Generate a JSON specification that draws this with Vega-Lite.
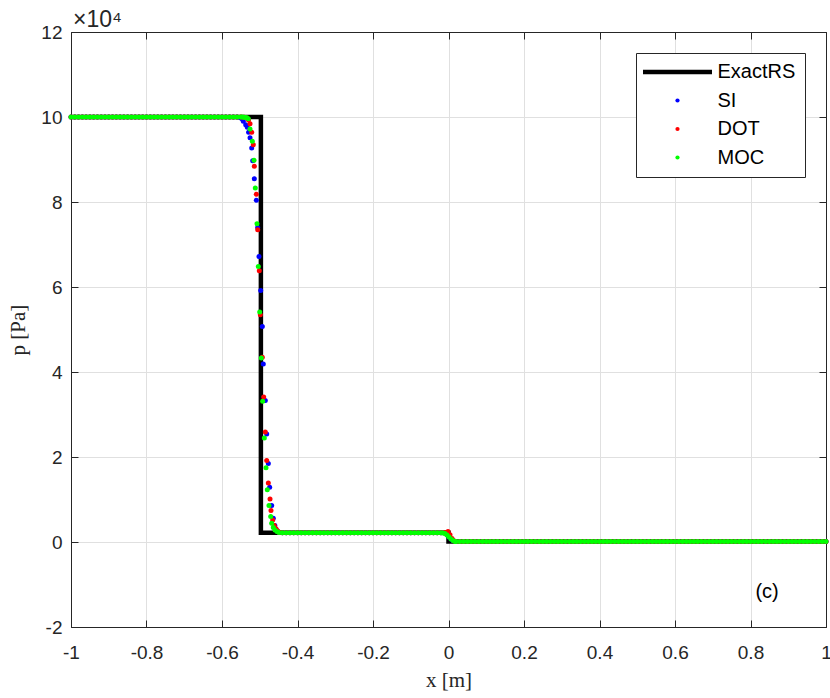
{
"$schema":"https://vega.github.io/schema/vega-lite/v6.json",
"width":755,"height":595,
"autosize":{"type":"none"},
"padding":{"left":71,"top":32,"right":4,"bottom":71},
"background":"white",
"config":{
"view":{"stroke":"#262626","strokeWidth":1},
"axis":{"labelFont":"Liberation Sans","labelFontSize":19,"labelColor":"#262626","domainColor":"#262626","domainWidth":1,"tickColor":"#262626","tickWidth":1,"tickSize":-7,"gridColor":"#e0e0e0","gridWidth":1,"titleFont":"Liberation Serif","titleFontSize":21,"titleFontWeight":"normal","titleColor":"#262626","labelFlush":false,"labelOverlap":false,"labelPadding":12}
},
"datasets":{
"exact":[
{"s":"ExactRS","x":-1,"p":10,"o":1},{"s":"ExactRS","x":-0.497,"p":10,"o":2},{"s":"ExactRS","x":-0.497,"p":0.215,"o":3},{"s":"ExactRS","x":0,"p":0.215,"o":4},{"s":"ExactRS","x":0,"p":0.01,"o":5},{"s":"ExactRS","x":1,"p":0.01,"o":6}
],
"note":[{"x":0.844,"p":-1.17,"label":"(c)"}],
"expo":[{"x":-1,"p":12,"label":"×10⁴"}],
"num":[
{"s":"SI","x":-1,"p":10},{"s":"SI","x":-0.99,"p":10},{"s":"SI","x":-0.98,"p":10},{"s":"SI","x":-0.97,"p":10},{"s":"SI","x":-0.96,"p":10},{"s":"SI","x":-0.95,"p":10},{"s":"SI","x":-0.94,"p":10},{"s":"SI","x":-0.93,"p":10},{"s":"SI","x":-0.92,"p":10},{"s":"SI","x":-0.91,"p":10},{"s":"SI","x":-0.9,"p":10},{"s":"SI","x":-0.89,"p":10},{"s":"SI","x":-0.88,"p":10},{"s":"SI","x":-0.87,"p":10},{"s":"SI","x":-0.86,"p":10},{"s":"SI","x":-0.85,"p":10},{"s":"SI","x":-0.84,"p":10},{"s":"SI","x":-0.83,"p":10},{"s":"SI","x":-0.82,"p":10},{"s":"SI","x":-0.81,"p":10},{"s":"SI","x":-0.8,"p":10},{"s":"SI","x":-0.79,"p":10},{"s":"SI","x":-0.78,"p":10},{"s":"SI","x":-0.77,"p":10},{"s":"SI","x":-0.76,"p":10},{"s":"SI","x":-0.75,"p":10},{"s":"SI","x":-0.74,"p":10},{"s":"SI","x":-0.73,"p":10},{"s":"SI","x":-0.72,"p":10},{"s":"SI","x":-0.71,"p":10},{"s":"SI","x":-0.7,"p":10},{"s":"SI","x":-0.69,"p":10},{"s":"SI","x":-0.68,"p":10},{"s":"SI","x":-0.67,"p":10},{"s":"SI","x":-0.66,"p":10},{"s":"SI","x":-0.65,"p":10},{"s":"SI","x":-0.64,"p":10},{"s":"SI","x":-0.63,"p":10},{"s":"SI","x":-0.62,"p":10},{"s":"SI","x":-0.61,"p":10},{"s":"SI","x":-0.6,"p":10},{"s":"SI","x":-0.59,"p":10},{"s":"SI","x":-0.58,"p":10},{"s":"SI","x":-0.57,"p":10},{"s":"SI","x":-0.56,"p":10},
{"s":"SI","x":-0.552,"p":9.99},{"s":"SI","x":-0.5475,"p":9.96},{"s":"SI","x":-0.5436,"p":9.9},{"s":"SI","x":-0.5372,"p":9.82},{"s":"SI","x":-0.533,"p":9.76},{"s":"SI","x":-0.5295,"p":9.64},{"s":"SI","x":-0.5258,"p":9.51},{"s":"SI","x":-0.5213,"p":9.27},{"s":"SI","x":-0.5187,"p":8.97},{"s":"SI","x":-0.5144,"p":8.55},{"s":"SI","x":-0.5091,"p":8.04},{"s":"SI","x":-0.5055,"p":7.4},{"s":"SI","x":-0.502,"p":6.72},{"s":"SI","x":-0.4975,"p":5.92},{"s":"SI","x":-0.4932,"p":5.07},{"s":"SI","x":-0.4906,"p":4.19},{"s":"SI","x":-0.4853,"p":3.33},{"s":"SI","x":-0.4816,"p":2.54},{"s":"SI","x":-0.4773,"p":1.85},{"s":"SI","x":-0.4737,"p":1.29},{"s":"SI","x":-0.4684,"p":0.86},{"s":"SI","x":-0.4641,"p":0.56},{"s":"SI","x":-0.46,"p":0.39},{"s":"SI","x":-0.456,"p":0.29},{"s":"SI","x":-0.452,"p":0.25},{"s":"SI","x":-0.448,"p":0.225},
{"s":"SI","x":-0.44,"p":0.215},{"s":"SI","x":-0.43,"p":0.215},{"s":"SI","x":-0.42,"p":0.215},{"s":"SI","x":-0.41,"p":0.215},{"s":"SI","x":-0.4,"p":0.215},{"s":"SI","x":-0.39,"p":0.215},{"s":"SI","x":-0.38,"p":0.215},{"s":"SI","x":-0.37,"p":0.215},{"s":"SI","x":-0.36,"p":0.215},{"s":"SI","x":-0.35,"p":0.215},{"s":"SI","x":-0.34,"p":0.215},{"s":"SI","x":-0.33,"p":0.215},{"s":"SI","x":-0.32,"p":0.215},{"s":"SI","x":-0.31,"p":0.215},{"s":"SI","x":-0.3,"p":0.215},{"s":"SI","x":-0.29,"p":0.215},{"s":"SI","x":-0.28,"p":0.215},{"s":"SI","x":-0.27,"p":0.215},{"s":"SI","x":-0.26,"p":0.215},{"s":"SI","x":-0.25,"p":0.215},{"s":"SI","x":-0.24,"p":0.215},{"s":"SI","x":-0.23,"p":0.215},{"s":"SI","x":-0.22,"p":0.215},{"s":"SI","x":-0.21,"p":0.215},{"s":"SI","x":-0.2,"p":0.215},{"s":"SI","x":-0.19,"p":0.215},{"s":"SI","x":-0.18,"p":0.215},{"s":"SI","x":-0.17,"p":0.215},{"s":"SI","x":-0.16,"p":0.215},{"s":"SI","x":-0.15,"p":0.215},{"s":"SI","x":-0.14,"p":0.215},{"s":"SI","x":-0.13,"p":0.215},{"s":"SI","x":-0.12,"p":0.215},{"s":"SI","x":-0.11,"p":0.215},{"s":"SI","x":-0.1,"p":0.215},{"s":"SI","x":-0.09,"p":0.215},{"s":"SI","x":-0.08,"p":0.215},{"s":"SI","x":-0.07,"p":0.215},{"s":"SI","x":-0.06,"p":0.215},{"s":"SI","x":-0.05,"p":0.215},{"s":"SI","x":-0.04,"p":0.215},{"s":"SI","x":-0.03,"p":0.215},{"s":"SI","x":-0.02,"p":0.215},
{"s":"SI","x":-0.0093,"p":0.21},{"s":"SI","x":-0.004,"p":0.17},{"s":"SI","x":0.0013,"p":0.12},{"s":"SI","x":0.0066,"p":0.07},{"s":"SI","x":0.0119,"p":0.035},
{"s":"SI","x":0.02,"p":0.01},{"s":"SI","x":0.03,"p":0.01},{"s":"SI","x":0.04,"p":0.01},{"s":"SI","x":0.05,"p":0.01},{"s":"SI","x":0.06,"p":0.01},{"s":"SI","x":0.07,"p":0.01},{"s":"SI","x":0.08,"p":0.01},{"s":"SI","x":0.09,"p":0.01},{"s":"SI","x":0.1,"p":0.01},{"s":"SI","x":0.11,"p":0.01},{"s":"SI","x":0.12,"p":0.01},{"s":"SI","x":0.13,"p":0.01},{"s":"SI","x":0.14,"p":0.01},{"s":"SI","x":0.15,"p":0.01},{"s":"SI","x":0.16,"p":0.01},{"s":"SI","x":0.17,"p":0.01},{"s":"SI","x":0.18,"p":0.01},{"s":"SI","x":0.19,"p":0.01},{"s":"SI","x":0.2,"p":0.01},{"s":"SI","x":0.21,"p":0.01},{"s":"SI","x":0.22,"p":0.01},{"s":"SI","x":0.23,"p":0.01},{"s":"SI","x":0.24,"p":0.01},{"s":"SI","x":0.25,"p":0.01},{"s":"SI","x":0.26,"p":0.01},{"s":"SI","x":0.27,"p":0.01},{"s":"SI","x":0.28,"p":0.01},{"s":"SI","x":0.29,"p":0.01},{"s":"SI","x":0.3,"p":0.01},{"s":"SI","x":0.31,"p":0.01},{"s":"SI","x":0.32,"p":0.01},{"s":"SI","x":0.33,"p":0.01},{"s":"SI","x":0.34,"p":0.01},{"s":"SI","x":0.35,"p":0.01},{"s":"SI","x":0.36,"p":0.01},{"s":"SI","x":0.37,"p":0.01},{"s":"SI","x":0.38,"p":0.01},{"s":"SI","x":0.39,"p":0.01},{"s":"SI","x":0.4,"p":0.01},{"s":"SI","x":0.41,"p":0.01},{"s":"SI","x":0.42,"p":0.01},{"s":"SI","x":0.43,"p":0.01},{"s":"SI","x":0.44,"p":0.01},{"s":"SI","x":0.45,"p":0.01},{"s":"SI","x":0.46,"p":0.01},{"s":"SI","x":0.47,"p":0.01},{"s":"SI","x":0.48,"p":0.01},{"s":"SI","x":0.49,"p":0.01},{"s":"SI","x":0.5,"p":0.01},{"s":"SI","x":0.51,"p":0.01},{"s":"SI","x":0.52,"p":0.01},{"s":"SI","x":0.53,"p":0.01},{"s":"SI","x":0.54,"p":0.01},{"s":"SI","x":0.55,"p":0.01},{"s":"SI","x":0.56,"p":0.01},{"s":"SI","x":0.57,"p":0.01},{"s":"SI","x":0.58,"p":0.01},{"s":"SI","x":0.59,"p":0.01},{"s":"SI","x":0.6,"p":0.01},{"s":"SI","x":0.61,"p":0.01},{"s":"SI","x":0.62,"p":0.01},{"s":"SI","x":0.63,"p":0.01},{"s":"SI","x":0.64,"p":0.01},{"s":"SI","x":0.65,"p":0.01},{"s":"SI","x":0.66,"p":0.01},{"s":"SI","x":0.67,"p":0.01},{"s":"SI","x":0.68,"p":0.01},{"s":"SI","x":0.69,"p":0.01},{"s":"SI","x":0.7,"p":0.01},{"s":"SI","x":0.71,"p":0.01},{"s":"SI","x":0.72,"p":0.01},{"s":"SI","x":0.73,"p":0.01},{"s":"SI","x":0.74,"p":0.01},{"s":"SI","x":0.75,"p":0.01},{"s":"SI","x":0.76,"p":0.01},{"s":"SI","x":0.77,"p":0.01},{"s":"SI","x":0.78,"p":0.01},{"s":"SI","x":0.79,"p":0.01},{"s":"SI","x":0.8,"p":0.01},{"s":"SI","x":0.81,"p":0.01},{"s":"SI","x":0.82,"p":0.01},{"s":"SI","x":0.83,"p":0.01},{"s":"SI","x":0.84,"p":0.01},{"s":"SI","x":0.85,"p":0.01},{"s":"SI","x":0.86,"p":0.01},{"s":"SI","x":0.87,"p":0.01},{"s":"SI","x":0.88,"p":0.01},{"s":"SI","x":0.89,"p":0.01},{"s":"SI","x":0.9,"p":0.01},{"s":"SI","x":0.91,"p":0.01},{"s":"SI","x":0.92,"p":0.01},{"s":"SI","x":0.93,"p":0.01},{"s":"SI","x":0.94,"p":0.01},{"s":"SI","x":0.95,"p":0.01},{"s":"SI","x":0.96,"p":0.01},{"s":"SI","x":0.97,"p":0.01},{"s":"SI","x":0.98,"p":0.01},{"s":"SI","x":0.99,"p":0.01},{"s":"SI","x":1,"p":0.01},
{"s":"DOT","x":-1,"p":10},{"s":"DOT","x":-0.99,"p":10},{"s":"DOT","x":-0.98,"p":10},{"s":"DOT","x":-0.97,"p":10},{"s":"DOT","x":-0.96,"p":10},{"s":"DOT","x":-0.95,"p":10},{"s":"DOT","x":-0.94,"p":10},{"s":"DOT","x":-0.93,"p":10},{"s":"DOT","x":-0.92,"p":10},{"s":"DOT","x":-0.91,"p":10},{"s":"DOT","x":-0.9,"p":10},{"s":"DOT","x":-0.89,"p":10},{"s":"DOT","x":-0.88,"p":10},{"s":"DOT","x":-0.87,"p":10},{"s":"DOT","x":-0.86,"p":10},{"s":"DOT","x":-0.85,"p":10},{"s":"DOT","x":-0.84,"p":10},{"s":"DOT","x":-0.83,"p":10},{"s":"DOT","x":-0.82,"p":10},{"s":"DOT","x":-0.81,"p":10},{"s":"DOT","x":-0.8,"p":10},{"s":"DOT","x":-0.79,"p":10},{"s":"DOT","x":-0.78,"p":10},{"s":"DOT","x":-0.77,"p":10},{"s":"DOT","x":-0.76,"p":10},{"s":"DOT","x":-0.75,"p":10},{"s":"DOT","x":-0.74,"p":10},{"s":"DOT","x":-0.73,"p":10},{"s":"DOT","x":-0.72,"p":10},{"s":"DOT","x":-0.71,"p":10},{"s":"DOT","x":-0.7,"p":10},{"s":"DOT","x":-0.69,"p":10},{"s":"DOT","x":-0.68,"p":10},{"s":"DOT","x":-0.67,"p":10},{"s":"DOT","x":-0.66,"p":10},{"s":"DOT","x":-0.65,"p":10},{"s":"DOT","x":-0.64,"p":10},{"s":"DOT","x":-0.63,"p":10},{"s":"DOT","x":-0.62,"p":10},{"s":"DOT","x":-0.61,"p":10},{"s":"DOT","x":-0.6,"p":10},{"s":"DOT","x":-0.59,"p":10},{"s":"DOT","x":-0.58,"p":10},{"s":"DOT","x":-0.57,"p":10},{"s":"DOT","x":-0.56,"p":10},
{"s":"DOT","x":-0.55,"p":10},{"s":"DOT","x":-0.5418,"p":9.995},{"s":"DOT","x":-0.5378,"p":9.99},{"s":"DOT","x":-0.5338,"p":9.97},{"s":"DOT","x":-0.5298,"p":9.93},{"s":"DOT","x":-0.5258,"p":9.84},{"s":"DOT","x":-0.5213,"p":9.64},{"s":"DOT","x":-0.5171,"p":9.35},{"s":"DOT","x":-0.5144,"p":8.84},{"s":"DOT","x":-0.5091,"p":8.18},{"s":"DOT","x":-0.5054,"p":7.35},{"s":"DOT","x":-0.5012,"p":6.38},{"s":"DOT","x":-0.4985,"p":5.35},{"s":"DOT","x":-0.4932,"p":4.35},{"s":"DOT","x":-0.4895,"p":3.41},{"s":"DOT","x":-0.4853,"p":2.59},{"s":"DOT","x":-0.4816,"p":1.92},{"s":"DOT","x":-0.4773,"p":1.39},{"s":"DOT","x":-0.4728,"p":1.01},{"s":"DOT","x":-0.4702,"p":0.74},{"s":"DOT","x":-0.4657,"p":0.52},{"s":"DOT","x":-0.4615,"p":0.39},{"s":"DOT","x":-0.457,"p":0.31},{"s":"DOT","x":-0.4528,"p":0.26},{"s":"DOT","x":-0.4483,"p":0.23},
{"s":"DOT","x":-0.44,"p":0.215},{"s":"DOT","x":-0.43,"p":0.215},{"s":"DOT","x":-0.42,"p":0.215},{"s":"DOT","x":-0.41,"p":0.215},{"s":"DOT","x":-0.4,"p":0.215},{"s":"DOT","x":-0.39,"p":0.215},{"s":"DOT","x":-0.38,"p":0.215},{"s":"DOT","x":-0.37,"p":0.215},{"s":"DOT","x":-0.36,"p":0.215},{"s":"DOT","x":-0.35,"p":0.215},{"s":"DOT","x":-0.34,"p":0.215},{"s":"DOT","x":-0.33,"p":0.215},{"s":"DOT","x":-0.32,"p":0.215},{"s":"DOT","x":-0.31,"p":0.215},{"s":"DOT","x":-0.3,"p":0.215},{"s":"DOT","x":-0.29,"p":0.215},{"s":"DOT","x":-0.28,"p":0.215},{"s":"DOT","x":-0.27,"p":0.215},{"s":"DOT","x":-0.26,"p":0.215},{"s":"DOT","x":-0.25,"p":0.215},{"s":"DOT","x":-0.24,"p":0.215},{"s":"DOT","x":-0.23,"p":0.215},{"s":"DOT","x":-0.22,"p":0.215},{"s":"DOT","x":-0.21,"p":0.215},{"s":"DOT","x":-0.2,"p":0.215},{"s":"DOT","x":-0.19,"p":0.215},{"s":"DOT","x":-0.18,"p":0.215},{"s":"DOT","x":-0.17,"p":0.215},{"s":"DOT","x":-0.16,"p":0.215},{"s":"DOT","x":-0.15,"p":0.215},{"s":"DOT","x":-0.14,"p":0.215},{"s":"DOT","x":-0.13,"p":0.215},{"s":"DOT","x":-0.12,"p":0.215},{"s":"DOT","x":-0.11,"p":0.215},{"s":"DOT","x":-0.1,"p":0.215},{"s":"DOT","x":-0.09,"p":0.215},{"s":"DOT","x":-0.08,"p":0.215},{"s":"DOT","x":-0.07,"p":0.215},{"s":"DOT","x":-0.06,"p":0.215},{"s":"DOT","x":-0.05,"p":0.215},{"s":"DOT","x":-0.04,"p":0.215},{"s":"DOT","x":-0.03,"p":0.215},{"s":"DOT","x":-0.02,"p":0.215},
{"s":"DOT","x":-0.0119,"p":0.218},{"s":"DOT","x":-0.0066,"p":0.225},{"s":"DOT","x":-0.0013,"p":0.245},{"s":"DOT","x":0.004,"p":0.17},{"s":"DOT","x":0.0093,"p":0.08},{"s":"DOT","x":0.0146,"p":0.03},
{"s":"DOT","x":0.02,"p":0.01},{"s":"DOT","x":0.03,"p":0.01},{"s":"DOT","x":0.04,"p":0.01},{"s":"DOT","x":0.05,"p":0.01},{"s":"DOT","x":0.06,"p":0.01},{"s":"DOT","x":0.07,"p":0.01},{"s":"DOT","x":0.08,"p":0.01},{"s":"DOT","x":0.09,"p":0.01},{"s":"DOT","x":0.1,"p":0.01},{"s":"DOT","x":0.11,"p":0.01},{"s":"DOT","x":0.12,"p":0.01},{"s":"DOT","x":0.13,"p":0.01},{"s":"DOT","x":0.14,"p":0.01},{"s":"DOT","x":0.15,"p":0.01},{"s":"DOT","x":0.16,"p":0.01},{"s":"DOT","x":0.17,"p":0.01},{"s":"DOT","x":0.18,"p":0.01},{"s":"DOT","x":0.19,"p":0.01},{"s":"DOT","x":0.2,"p":0.01},{"s":"DOT","x":0.21,"p":0.01},{"s":"DOT","x":0.22,"p":0.01},{"s":"DOT","x":0.23,"p":0.01},{"s":"DOT","x":0.24,"p":0.01},{"s":"DOT","x":0.25,"p":0.01},{"s":"DOT","x":0.26,"p":0.01},{"s":"DOT","x":0.27,"p":0.01},{"s":"DOT","x":0.28,"p":0.01},{"s":"DOT","x":0.29,"p":0.01},{"s":"DOT","x":0.3,"p":0.01},{"s":"DOT","x":0.31,"p":0.01},{"s":"DOT","x":0.32,"p":0.01},{"s":"DOT","x":0.33,"p":0.01},{"s":"DOT","x":0.34,"p":0.01},{"s":"DOT","x":0.35,"p":0.01},{"s":"DOT","x":0.36,"p":0.01},{"s":"DOT","x":0.37,"p":0.01},{"s":"DOT","x":0.38,"p":0.01},{"s":"DOT","x":0.39,"p":0.01},{"s":"DOT","x":0.4,"p":0.01},{"s":"DOT","x":0.41,"p":0.01},{"s":"DOT","x":0.42,"p":0.01},{"s":"DOT","x":0.43,"p":0.01},{"s":"DOT","x":0.44,"p":0.01},{"s":"DOT","x":0.45,"p":0.01},{"s":"DOT","x":0.46,"p":0.01},{"s":"DOT","x":0.47,"p":0.01},{"s":"DOT","x":0.48,"p":0.01},{"s":"DOT","x":0.49,"p":0.01},{"s":"DOT","x":0.5,"p":0.01},{"s":"DOT","x":0.51,"p":0.01},{"s":"DOT","x":0.52,"p":0.01},{"s":"DOT","x":0.53,"p":0.01},{"s":"DOT","x":0.54,"p":0.01},{"s":"DOT","x":0.55,"p":0.01},{"s":"DOT","x":0.56,"p":0.01},{"s":"DOT","x":0.57,"p":0.01},{"s":"DOT","x":0.58,"p":0.01},{"s":"DOT","x":0.59,"p":0.01},{"s":"DOT","x":0.6,"p":0.01},{"s":"DOT","x":0.61,"p":0.01},{"s":"DOT","x":0.62,"p":0.01},{"s":"DOT","x":0.63,"p":0.01},{"s":"DOT","x":0.64,"p":0.01},{"s":"DOT","x":0.65,"p":0.01},{"s":"DOT","x":0.66,"p":0.01},{"s":"DOT","x":0.67,"p":0.01},{"s":"DOT","x":0.68,"p":0.01},{"s":"DOT","x":0.69,"p":0.01},{"s":"DOT","x":0.7,"p":0.01},{"s":"DOT","x":0.71,"p":0.01},{"s":"DOT","x":0.72,"p":0.01},{"s":"DOT","x":0.73,"p":0.01},{"s":"DOT","x":0.74,"p":0.01},{"s":"DOT","x":0.75,"p":0.01},{"s":"DOT","x":0.76,"p":0.01},{"s":"DOT","x":0.77,"p":0.01},{"s":"DOT","x":0.78,"p":0.01},{"s":"DOT","x":0.79,"p":0.01},{"s":"DOT","x":0.8,"p":0.01},{"s":"DOT","x":0.81,"p":0.01},{"s":"DOT","x":0.82,"p":0.01},{"s":"DOT","x":0.83,"p":0.01},{"s":"DOT","x":0.84,"p":0.01},{"s":"DOT","x":0.85,"p":0.01},{"s":"DOT","x":0.86,"p":0.01},{"s":"DOT","x":0.87,"p":0.01},{"s":"DOT","x":0.88,"p":0.01},{"s":"DOT","x":0.89,"p":0.01},{"s":"DOT","x":0.9,"p":0.01},{"s":"DOT","x":0.91,"p":0.01},{"s":"DOT","x":0.92,"p":0.01},{"s":"DOT","x":0.93,"p":0.01},{"s":"DOT","x":0.94,"p":0.01},{"s":"DOT","x":0.95,"p":0.01},{"s":"DOT","x":0.96,"p":0.01},{"s":"DOT","x":0.97,"p":0.01},{"s":"DOT","x":0.98,"p":0.01},{"s":"DOT","x":0.99,"p":0.01},{"s":"DOT","x":1,"p":0.01},
{"s":"MOC","x":-1,"p":10},{"s":"MOC","x":-0.99,"p":10},{"s":"MOC","x":-0.98,"p":10},{"s":"MOC","x":-0.97,"p":10},{"s":"MOC","x":-0.96,"p":10},{"s":"MOC","x":-0.95,"p":10},{"s":"MOC","x":-0.94,"p":10},{"s":"MOC","x":-0.93,"p":10},{"s":"MOC","x":-0.92,"p":10},{"s":"MOC","x":-0.91,"p":10},{"s":"MOC","x":-0.9,"p":10},{"s":"MOC","x":-0.89,"p":10},{"s":"MOC","x":-0.88,"p":10},{"s":"MOC","x":-0.87,"p":10},{"s":"MOC","x":-0.86,"p":10},{"s":"MOC","x":-0.85,"p":10},{"s":"MOC","x":-0.84,"p":10},{"s":"MOC","x":-0.83,"p":10},{"s":"MOC","x":-0.82,"p":10},{"s":"MOC","x":-0.81,"p":10},{"s":"MOC","x":-0.8,"p":10},{"s":"MOC","x":-0.79,"p":10},{"s":"MOC","x":-0.78,"p":10},{"s":"MOC","x":-0.77,"p":10},{"s":"MOC","x":-0.76,"p":10},{"s":"MOC","x":-0.75,"p":10},{"s":"MOC","x":-0.74,"p":10},{"s":"MOC","x":-0.73,"p":10},{"s":"MOC","x":-0.72,"p":10},{"s":"MOC","x":-0.71,"p":10},{"s":"MOC","x":-0.7,"p":10},{"s":"MOC","x":-0.69,"p":10},{"s":"MOC","x":-0.68,"p":10},{"s":"MOC","x":-0.67,"p":10},{"s":"MOC","x":-0.66,"p":10},{"s":"MOC","x":-0.65,"p":10},{"s":"MOC","x":-0.64,"p":10},{"s":"MOC","x":-0.63,"p":10},{"s":"MOC","x":-0.62,"p":10},{"s":"MOC","x":-0.61,"p":10},{"s":"MOC","x":-0.6,"p":10},{"s":"MOC","x":-0.59,"p":10},{"s":"MOC","x":-0.58,"p":10},{"s":"MOC","x":-0.57,"p":10},{"s":"MOC","x":-0.56,"p":10},
{"s":"MOC","x":-0.55,"p":10},{"s":"MOC","x":-0.5458,"p":10},{"s":"MOC","x":-0.5418,"p":9.995},{"s":"MOC","x":-0.5378,"p":9.99},{"s":"MOC","x":-0.5338,"p":9.98},{"s":"MOC","x":-0.5303,"p":9.96},{"s":"MOC","x":-0.5258,"p":9.72},{"s":"MOC","x":-0.5197,"p":9.43},{"s":"MOC","x":-0.5152,"p":8.98},{"s":"MOC","x":-0.5118,"p":8.33},{"s":"MOC","x":-0.5073,"p":7.49},{"s":"MOC","x":-0.5038,"p":6.48},{"s":"MOC","x":-0.5001,"p":5.41},{"s":"MOC","x":-0.4959,"p":4.33},{"s":"MOC","x":-0.4922,"p":3.31},{"s":"MOC","x":-0.4879,"p":2.45},{"s":"MOC","x":-0.4834,"p":1.75},{"s":"MOC","x":-0.48,"p":1.23},{"s":"MOC","x":-0.4755,"p":0.86},{"s":"MOC","x":-0.471,"p":0.6},{"s":"MOC","x":-0.4684,"p":0.44},{"s":"MOC","x":-0.4641,"p":0.34},{"s":"MOC","x":-0.4596,"p":0.28},{"s":"MOC","x":-0.4543,"p":0.25},{"s":"MOC","x":-0.449,"p":0.225},
{"s":"MOC","x":-0.44,"p":0.215},{"s":"MOC","x":-0.43,"p":0.215},{"s":"MOC","x":-0.42,"p":0.215},{"s":"MOC","x":-0.41,"p":0.215},{"s":"MOC","x":-0.4,"p":0.215},{"s":"MOC","x":-0.39,"p":0.215},{"s":"MOC","x":-0.38,"p":0.215},{"s":"MOC","x":-0.37,"p":0.215},{"s":"MOC","x":-0.36,"p":0.215},{"s":"MOC","x":-0.35,"p":0.215},{"s":"MOC","x":-0.34,"p":0.215},{"s":"MOC","x":-0.33,"p":0.215},{"s":"MOC","x":-0.32,"p":0.215},{"s":"MOC","x":-0.31,"p":0.215},{"s":"MOC","x":-0.3,"p":0.215},{"s":"MOC","x":-0.29,"p":0.215},{"s":"MOC","x":-0.28,"p":0.215},{"s":"MOC","x":-0.27,"p":0.215},{"s":"MOC","x":-0.26,"p":0.215},{"s":"MOC","x":-0.25,"p":0.215},{"s":"MOC","x":-0.24,"p":0.215},{"s":"MOC","x":-0.23,"p":0.215},{"s":"MOC","x":-0.22,"p":0.215},{"s":"MOC","x":-0.21,"p":0.215},{"s":"MOC","x":-0.2,"p":0.215},{"s":"MOC","x":-0.19,"p":0.215},{"s":"MOC","x":-0.18,"p":0.215},{"s":"MOC","x":-0.17,"p":0.215},{"s":"MOC","x":-0.16,"p":0.215},{"s":"MOC","x":-0.15,"p":0.215},{"s":"MOC","x":-0.14,"p":0.215},{"s":"MOC","x":-0.13,"p":0.215},{"s":"MOC","x":-0.12,"p":0.215},{"s":"MOC","x":-0.11,"p":0.215},{"s":"MOC","x":-0.1,"p":0.215},{"s":"MOC","x":-0.09,"p":0.215},{"s":"MOC","x":-0.08,"p":0.215},{"s":"MOC","x":-0.07,"p":0.215},{"s":"MOC","x":-0.06,"p":0.215},{"s":"MOC","x":-0.05,"p":0.215},{"s":"MOC","x":-0.04,"p":0.215},{"s":"MOC","x":-0.03,"p":0.215},{"s":"MOC","x":-0.02,"p":0.215},
{"s":"MOC","x":-0.0146,"p":0.214},{"s":"MOC","x":-0.0093,"p":0.2},{"s":"MOC","x":-0.004,"p":0.165},{"s":"MOC","x":0.0013,"p":0.118},{"s":"MOC","x":0.0066,"p":0.07},{"s":"MOC","x":0.0119,"p":0.035},{"s":"MOC","x":0.0172,"p":0.012},
{"s":"MOC","x":0.02,"p":0.01},{"s":"MOC","x":0.03,"p":0.01},{"s":"MOC","x":0.04,"p":0.01},{"s":"MOC","x":0.05,"p":0.01},{"s":"MOC","x":0.06,"p":0.01},{"s":"MOC","x":0.07,"p":0.01},{"s":"MOC","x":0.08,"p":0.01},{"s":"MOC","x":0.09,"p":0.01},{"s":"MOC","x":0.1,"p":0.01},{"s":"MOC","x":0.11,"p":0.01},{"s":"MOC","x":0.12,"p":0.01},{"s":"MOC","x":0.13,"p":0.01},{"s":"MOC","x":0.14,"p":0.01},{"s":"MOC","x":0.15,"p":0.01},{"s":"MOC","x":0.16,"p":0.01},{"s":"MOC","x":0.17,"p":0.01},{"s":"MOC","x":0.18,"p":0.01},{"s":"MOC","x":0.19,"p":0.01},{"s":"MOC","x":0.2,"p":0.01},{"s":"MOC","x":0.21,"p":0.01},{"s":"MOC","x":0.22,"p":0.01},{"s":"MOC","x":0.23,"p":0.01},{"s":"MOC","x":0.24,"p":0.01},{"s":"MOC","x":0.25,"p":0.01},{"s":"MOC","x":0.26,"p":0.01},{"s":"MOC","x":0.27,"p":0.01},{"s":"MOC","x":0.28,"p":0.01},{"s":"MOC","x":0.29,"p":0.01},{"s":"MOC","x":0.3,"p":0.01},{"s":"MOC","x":0.31,"p":0.01},{"s":"MOC","x":0.32,"p":0.01},{"s":"MOC","x":0.33,"p":0.01},{"s":"MOC","x":0.34,"p":0.01},{"s":"MOC","x":0.35,"p":0.01},{"s":"MOC","x":0.36,"p":0.01},{"s":"MOC","x":0.37,"p":0.01},{"s":"MOC","x":0.38,"p":0.01},{"s":"MOC","x":0.39,"p":0.01},{"s":"MOC","x":0.4,"p":0.01},{"s":"MOC","x":0.41,"p":0.01},{"s":"MOC","x":0.42,"p":0.01},{"s":"MOC","x":0.43,"p":0.01},{"s":"MOC","x":0.44,"p":0.01},{"s":"MOC","x":0.45,"p":0.01},{"s":"MOC","x":0.46,"p":0.01},{"s":"MOC","x":0.47,"p":0.01},{"s":"MOC","x":0.48,"p":0.01},{"s":"MOC","x":0.49,"p":0.01},{"s":"MOC","x":0.5,"p":0.01},{"s":"MOC","x":0.51,"p":0.01},{"s":"MOC","x":0.52,"p":0.01},{"s":"MOC","x":0.53,"p":0.01},{"s":"MOC","x":0.54,"p":0.01},{"s":"MOC","x":0.55,"p":0.01},{"s":"MOC","x":0.56,"p":0.01},{"s":"MOC","x":0.57,"p":0.01},{"s":"MOC","x":0.58,"p":0.01},{"s":"MOC","x":0.59,"p":0.01},{"s":"MOC","x":0.6,"p":0.01},{"s":"MOC","x":0.61,"p":0.01},{"s":"MOC","x":0.62,"p":0.01},{"s":"MOC","x":0.63,"p":0.01},{"s":"MOC","x":0.64,"p":0.01},{"s":"MOC","x":0.65,"p":0.01},{"s":"MOC","x":0.66,"p":0.01},{"s":"MOC","x":0.67,"p":0.01},{"s":"MOC","x":0.68,"p":0.01},{"s":"MOC","x":0.69,"p":0.01},{"s":"MOC","x":0.7,"p":0.01},{"s":"MOC","x":0.71,"p":0.01},{"s":"MOC","x":0.72,"p":0.01},{"s":"MOC","x":0.73,"p":0.01},{"s":"MOC","x":0.74,"p":0.01},{"s":"MOC","x":0.75,"p":0.01},{"s":"MOC","x":0.76,"p":0.01},{"s":"MOC","x":0.77,"p":0.01},{"s":"MOC","x":0.78,"p":0.01},{"s":"MOC","x":0.79,"p":0.01},{"s":"MOC","x":0.8,"p":0.01},{"s":"MOC","x":0.81,"p":0.01},{"s":"MOC","x":0.82,"p":0.01},{"s":"MOC","x":0.83,"p":0.01},{"s":"MOC","x":0.84,"p":0.01},{"s":"MOC","x":0.85,"p":0.01},{"s":"MOC","x":0.86,"p":0.01},{"s":"MOC","x":0.87,"p":0.01},{"s":"MOC","x":0.88,"p":0.01},{"s":"MOC","x":0.89,"p":0.01},{"s":"MOC","x":0.9,"p":0.01},{"s":"MOC","x":0.91,"p":0.01},{"s":"MOC","x":0.92,"p":0.01},{"s":"MOC","x":0.93,"p":0.01},{"s":"MOC","x":0.94,"p":0.01},{"s":"MOC","x":0.95,"p":0.01},{"s":"MOC","x":0.96,"p":0.01},{"s":"MOC","x":0.97,"p":0.01},{"s":"MOC","x":0.98,"p":0.01},{"s":"MOC","x":0.99,"p":0.01},{"s":"MOC","x":1,"p":0.01}
]
},
"layer":[
{"data":{"name":"exact"},
 "mark":{"type":"line","strokeWidth":4.5,"clip":false},
 "encoding":{
  "x":{"field":"x","type":"quantitative","scale":{"domain":[-1,1],"nice":false,"zero":false},
   "axis":{"orient":"bottom","values":[-1,-0.8,-0.6,-0.4,-0.2,0,0.2,0.4,0.6,0.8,1],"labelExpr":"'' + datum.value","title":"x [m]","grid":true,"labelPadding":23,"titlePadding":7}},
  "y":{"field":"p","type":"quantitative","scale":{"domain":[-2,12],"nice":false,"zero":false},
   "axis":{"orient":"left","values":[-2,0,2,4,6,8,10,12],"labelExpr":"'' + datum.value","title":"p [Pa]","grid":true,"labelPadding":16,"titlePadding":12}},
  "order":{"field":"o","type":"quantitative"},
  "color":{"field":"s","type":"nominal","scale":{"domain":["ExactRS","SI","DOT","MOC"],"range":["#000000","#0000ff","#ff0000","#00ff00"]},
   "legend":{"title":null,"orient":"top-right","offset":21,"padding":9,"rowPadding":8.5,"fillColor":"white","strokeColor":"#262626","cornerRadius":0,"labelFont":"Liberation Sans","labelFontSize":20,"labelColor":"#000000","symbolSize":18,"symbolType":"circle","symbolOffset":22.5,"labelOffset":30,
    "encode":{"symbols":{"update":{
     "shape":{"signal":"datum.value === 'ExactRS' ? 'M-16.26,0H16.26' : 'circle'"},
     "stroke":{"signal":"datum.value === 'ExactRS' ? '#000000' : 'transparent'"},
     "strokeWidth":{"signal":"datum.value === 'ExactRS' ? 4.5 : 0"},
     "fill":{"signal":"datum.value === 'SI' ? '#0000ff' : datum.value === 'DOT' ? '#ff0000' : datum.value === 'MOC' ? '#00ff00' : 'transparent'"},
     "opacity":{"value":1}}}}}}
 }},
{"data":{"name":"num"},
 "mark":{"type":"point","filled":true,"opacity":1,"size":25,"strokeWidth":0,"clip":false},
 "encoding":{
  "x":{"field":"x","type":"quantitative","axis":{"orient":"top","values":[-1,-0.8,-0.6,-0.4,-0.2,0,0.2,0.4,0.6,0.8,1],"labels":false,"grid":false,"title":null}},
  "y":{"field":"p","type":"quantitative","axis":{"orient":"right","values":[-2,0,2,4,6,8,10,12],"labels":false,"grid":false,"title":null}},
  "color":{"field":"s","type":"nominal"}
 }},
{"data":{"name":"note"},
 "mark":{"type":"text","font":"Liberation Sans","fontSize":20,"color":"#000000","align":"center","baseline":"middle"},
 "encoding":{
  "x":{"field":"x","type":"quantitative","axis":null},
  "y":{"field":"p","type":"quantitative","axis":null},
  "text":{"field":"label"}
 }},
{"data":{"name":"expo"},
 "mark":{"type":"text","font":"Liberation Sans","fontSize":23,"color":"#262626","align":"left","baseline":"alphabetic","dx":2,"dy":-5,"clip":false},
 "encoding":{
  "x":{"field":"x","type":"quantitative","axis":null},
  "y":{"field":"p","type":"quantitative","axis":null},
  "text":{"field":"label"}
 }}
],
"resolve":{"axis":{"x":"independent","y":"independent"}}
}
